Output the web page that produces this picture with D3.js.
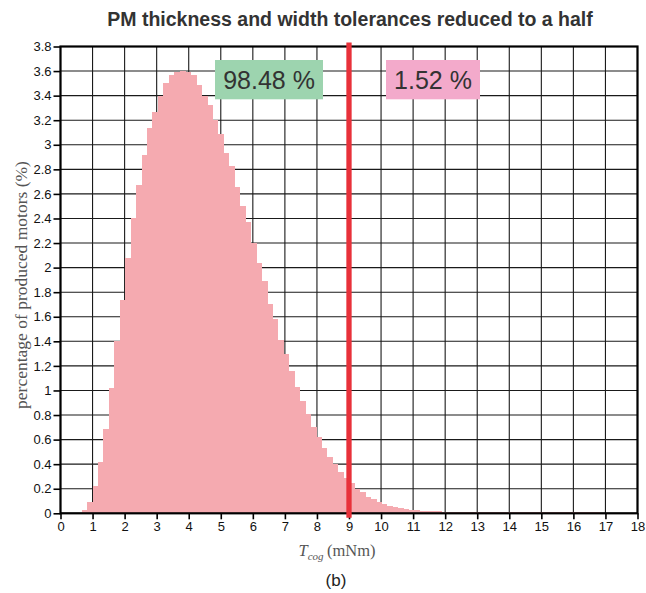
<!DOCTYPE html>
<html>
<head>
<meta charset="utf-8">
<script src="https://cdn.jsdelivr.net/npm/d3@7"></script>
<style>
  html, body { margin: 0; padding: 0; background: #fff; }
  svg { display: block; }
</style>
</head>
<body>
<svg id="chart" width="646" height="593"></svg>
<script>
// Histogram of cogging torque over the produced motors
const binStart = 0.49;   // left edge of the first bin (mNm)
const binWidth = 0.17;   // bin width (mNm)
const percentages = [
  0.005, 0.03, 0.095, 0.22, 0.415, 0.69, 1.02, 1.40, 1.74, 2.08,
  2.40, 2.67, 2.915, 3.135, 3.265, 3.40, 3.50, 3.57, 3.59, 3.60,
  3.59, 3.57, 3.49, 3.40, 3.32, 3.20, 3.09, 2.93, 2.825, 2.655,
  2.505, 2.37, 2.20, 2.04, 1.89, 1.70, 1.58, 1.41, 1.295, 1.16,
  1.027, 0.918, 0.807, 0.706, 0.62, 0.53, 0.46, 0.40, 0.34, 0.29,
  0.245, 0.20, 0.17, 0.135, 0.117, 0.095, 0.078, 0.062, 0.051, 0.043,
  0.035, 0.03, 0.025, 0.022, 0.019, 0.016, 0.015, 0.013, 0.013, 0.012,
  0.012, 0.012, 0.011, 0.011, 0.011, 0.010, 0.010, 0.010, 0.010, 0.010,
  0.009, 0.009, 0.009, 0.009, 0.009, 0.009, 0.008, 0.008, 0.008, 0.008,
  0.008, 0.008, 0.008, 0.008, 0.007, 0.007
];
const xTicks = d3.range(0, 19);
const yTicks = [0, 0.2, 0.4, 0.6, 0.8, 1, 1.2, 1.4, 1.6, 1.8, 2, 2.2, 2.4, 2.6, 2.8, 3, 3.2, 3.4, 3.6, 3.8];
const threshold = 9;
const shareBelow = "98.48 %";
const shareAbove = "1.52 %";

const svg = d3.select("#chart");
const plotLeft = 60.5, plotRight = 637.5, plotTop = 46.5, plotBottom = 513.3;

const x = d3.scaleLinear().domain([0, 18]).range([plotLeft, plotRight]);
const y = d3.scaleLinear().domain([0, 3.8]).range([plotBottom, plotTop]);

// grid
const grid = svg.append("g").attr("stroke", "#1a1a1a").attr("stroke-width", 1.1);
grid.selectAll("line.v").data(xTicks).join("line").attr("class", "v")
  .attr("x1", d => x(d)).attr("x2", d => x(d))
  .attr("y1", plotTop).attr("y2", plotBottom);
grid.selectAll("line.h").data(yTicks).join("line").attr("class", "h")
  .attr("x1", plotLeft).attr("x2", plotRight)
  .attr("y1", d => y(d)).attr("y2", d => y(d));

// histogram bars
const bins = percentages.map((v, i) => ({ x0: binStart + i * binWidth, x1: binStart + (i + 1) * binWidth, v }));
svg.append("g").attr("shape-rendering", "crispEdges")
  .selectAll("rect").data(bins).join("rect")
  .attr("x", d => x(d.x0))
  .attr("width", d => x(d.x1) - x(d.x0) + 0.6)
  .attr("y", d => y(d.v))
  .attr("height", d => y(0) - y(d.v))
  .attr("fill", "#f5aab0");

// axes
const tickFont = "'Liberation Sans', Arial, sans-serif";
const yAxis = svg.append("g").attr("transform", `translate(${plotLeft},0)`)
  .call(d3.axisLeft(y).tickValues(yTicks).tickFormat(d3.format("")).tickSize(7).tickPadding(2));
const xAxis = svg.append("g").attr("transform", `translate(0,${plotBottom})`)
  .call(d3.axisBottom(x).tickValues(xTicks).tickFormat(d3.format("d")).tickSize(6).tickPadding(2));
[yAxis, xAxis].forEach(a => {
  a.select(".domain").remove();
  a.selectAll(".tick line").attr("stroke", "#000").attr("stroke-width", 1.6);
  a.selectAll(".tick text").attr("fill", "#111").style("font-family", tickFont).style("font-size", "13px");
});

// frame
svg.append("rect")
  .attr("x", plotLeft).attr("y", plotTop)
  .attr("width", plotRight - plotLeft).attr("height", plotBottom - plotTop)
  .attr("fill", "none").attr("stroke", "#000").attr("stroke-width", 2.2);

// threshold line
svg.append("line")
  .attr("x1", x(threshold)).attr("x2", x(threshold))
  .attr("y1", plotTop - 4).attr("y2", plotBottom + 4.5)
  .attr("stroke", "#e8313a").attr("stroke-width", 5.3);

// share annotations
function shareBox(x0, x1, fill, label) {
  svg.append("rect").attr("x", x0).attr("y", 60).attr("width", x1 - x0).attr("height", 39.3).attr("fill", fill);
  svg.append("text").attr("x", (x0 + x1) / 2).attr("y", 88.5)
    .attr("text-anchor", "middle")
    .style("font-family", tickFont).style("font-size", "25px").attr("fill", "#333")
    .text(label);
}
shareBox(215, 323, "#9dd4af", shareBelow);
shareBox(386, 480, "#f3aacb", shareAbove);

// title
svg.append("text").attr("x", 350).attr("y", 26).attr("text-anchor", "middle")
  .style("font-family", tickFont).style("font-weight", "bold").style("font-size", "19.5px")
  .attr("fill", "#333")
  .text("PM thickness and width tolerances reduced to a half");

// axis titles
const serif = "'Liberation Serif', 'Times New Roman', serif";
const xl = svg.append("text").attr("x", 337).attr("y", 556).attr("text-anchor", "middle")
  .style("font-family", serif).style("font-size", "16.5px").attr("fill", "#555");
xl.append("tspan").style("font-style", "italic").text("T");
xl.append("tspan").style("font-style", "italic").style("font-size", "11px").attr("dy", 3.5).text("cog");
xl.append("tspan").attr("dy", -3.5).text("\u2009(mNm)");

svg.append("text")
  .attr("transform", "translate(27,285) rotate(-90)")
  .attr("text-anchor", "middle")
  .style("font-family", serif).style("font-size", "17.5px").attr("fill", "#555")
  .text("percentage of produced motors (%)");

svg.append("text").attr("x", 336).attr("y", 586).attr("text-anchor", "middle")
  .style("font-family", tickFont).style("font-size", "17px").attr("fill", "#222")
  .text("(b)");
</script>
</body>
</html>
